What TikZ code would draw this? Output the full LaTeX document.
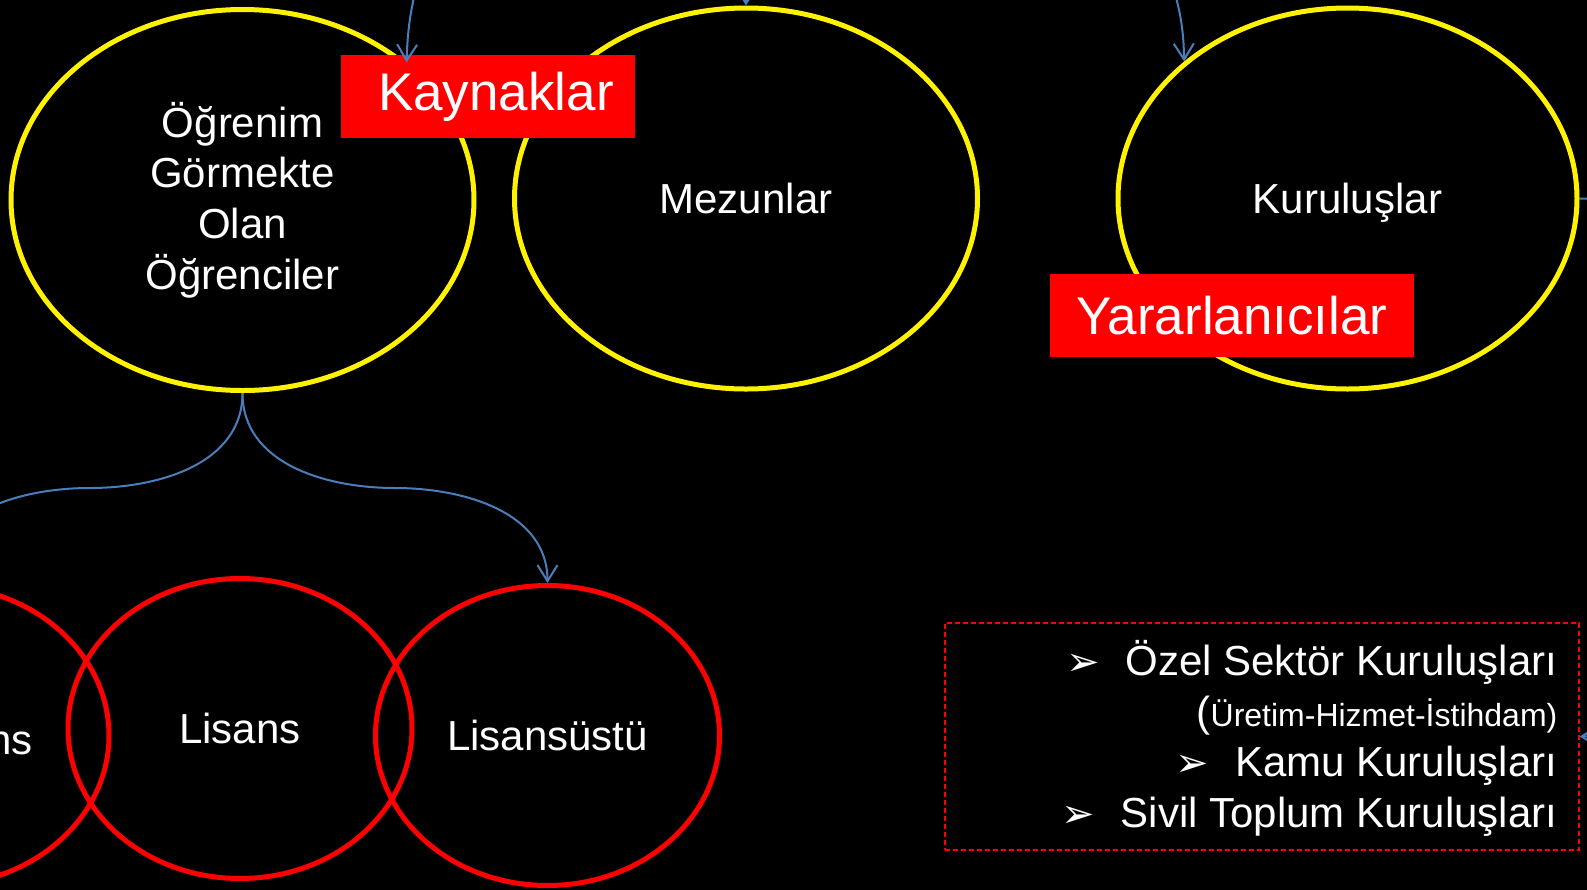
\documentclass[tikz,border=0pt]{standalone}
\usepackage{fontspec}
\setmainfont{Liberation Sans}
\newfontfamily\okfont{DejaVu Sans}
\usetikzlibrary{shapes.geometric,arrows.meta,calc}

\definecolor{baglanti}{RGB}{74,126,187}

\newcommand{\madde}{{\okfont\fontsize{20}{20}\selectfont\char"27A2}\hspace{13pt}}

\tikzset{
  grup/.style={ellipse, draw=yellow, line width=2.5pt, minimum width=231.5pt,
    minimum height=190.5pt, inner sep=0pt, text=white, align=center,
    font=\fontsize{21}{25.3}\selectfont},
  duzey/.style={ellipse, draw=red, line width=2.5pt, minimum width=172pt,
    minimum height=150pt, inner sep=0pt, text=white,
    font=\fontsize{21}{25.3}\selectfont},
  baslik/.style={fill=red, text=white, minimum height=41.5pt, inner sep=0pt,
    font=\fontsize{26.5}{30}\selectfont},
  liste/.style={text=white, inner sep=0pt, align=right,
    font=\fontsize{21}{25.3}\selectfont},
  ok/.style={draw=baglanti, line width=1pt, -{Straight Barb[length=8pt,width=10pt]}},
}

\begin{document}
\begin{tikzpicture}[x=0.5pt, y=-0.5pt]
  \path[use as bounding box, fill=black] (0,0) rectangle (1587,890);

  % ust sira
  \node[grup] at (242.5,200) (ogrenci) {Öğrenim\\Görmekte\\Olan\\Öğrenciler};
  \node[grup] at (746,198.5) (mezun) {Mezunlar};
  \node[grup, minimum width=229.5pt, text depth=0pt] at (1347.5,198.5) (kurulus) {Kuruluşlar};

  % alt sira
  \node[duzey] at (-63,735.5) (onlisans) {};
  \node[duzey] at (240,728.5) (lisans) {\raisebox{-3pt}{Lisans}};
  \node[duzey] at (547.5,735.5) (lisansustu) {\raisebox{-2pt}{Lisansüstü}};
  \node[liste, anchor=base east] at (33,754) (ns) {ns};

  % etiketler
  \node[baslik, minimum width=147pt] at (488,96.5) (kaynak) {\hspace{8pt}Kaynaklar};
  \node[baslik, minimum width=182pt] at (1232,315.5) (yarar) {Yararlanıcılar\hspace{4pt}};

  % kurulus listesi
  \node[draw=red, dash pattern=on 2.5pt off 1.5pt, line width=0.75pt,
    minimum width=317pt, minimum height=113.5pt, inner sep=0pt]
    at (1262,736.5) (kutu) {};
  \node[liste, anchor=east] at ([xshift=-11pt,yshift=-1pt]kutu.east) (maddeler)
    {\madde Özel Sektör Kuruluşları\\
     ({\fontsize{16}{25.3}\selectfont Üretim-Hizmet-İstihdam)}\\
     \madde Kamu Kuruluşları\\
     \madde Sivil Toplum Kuruluşları};

  % baglantilar
  \coordinate (g1) at (418,-20);
  \coordinate (g2) at (746,-40);
  \coordinate (g3) at (1171,-20);
  \draw[ok] (g1) to[bend right=6] (ogrenci.40);
  \draw[ok] (g2) -- (mezun.north);
  \draw[ok] (g3) to[bend left=8] (kurulus.140);
  \draw[ok] (kurulus.east) to[out=0,in=0] (kutu.east);
  \draw[ok] (ogrenci.south) to[out=-90,in=180]
    ($(ogrenci.south)!0.5!(lisansustu.north)$) to[out=0,in=90] (lisansustu.north);
  \draw[ok] (ogrenci.south) to[out=-90,in=0]
    ($(ogrenci.south)!0.5!(onlisans.north)$) to[out=180,in=90] (onlisans.north);
\end{tikzpicture}
\end{document}
